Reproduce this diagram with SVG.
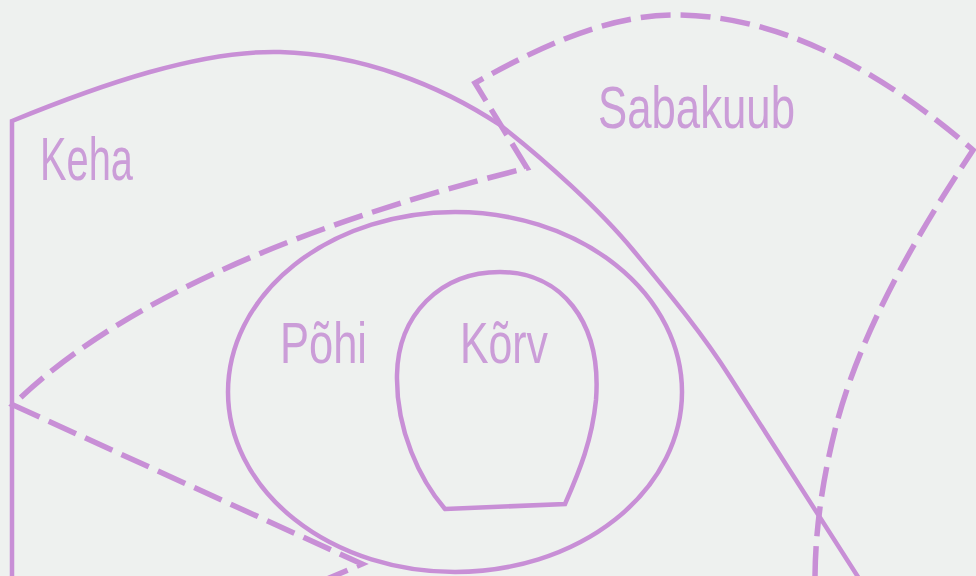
<svg xmlns="http://www.w3.org/2000/svg" width="976" height="576" viewBox="0 0 976 576">
<style>
.solid{fill:none;stroke:#c88fd6;stroke-width:4.5;stroke-linejoin:miter;stroke-linecap:round}
.dash{fill:none;stroke:#c88fd6;stroke-width:5.5;stroke-dasharray:30 10;stroke-linejoin:miter}
.lbl{font-family:"Liberation Sans Narrow","Liberation Sans",Arial,sans-serif;fill:#cb9dd8;font-weight:normal}
</style>
<rect width="976" height="576" fill="#eef1ef"/>
<g id="keha">
<path class="solid" d="M12,578 L12,121 C100,85 200,50 280,52 C360,54 440,85 500,125 C545,160 600,210 633,250 S700,330 730,377 L860,580"/>
<text class="lbl" x="40" y="180" font-size="61" textLength="93" lengthAdjust="spacingAndGlyphs">Keha</text>
</g>
<g id="sabakuub">
<path class="dash" d="M320,582 L362,564 L13,405 C150,270 400,200 527,168 L475,83 C560,35 620,15 675,15 C780,15 880,70 973,150 C920,230 860,330 835,430 C820,490 815,540 815,580"/>
<text class="lbl" x="598" y="128" font-size="60" textLength="197" lengthAdjust="spacingAndGlyphs">Sabakuub</text>
</g>
<g id="pohi">
<ellipse class="solid" cx="455" cy="392" rx="227" ry="180"/>
<text class="lbl" x="280" y="363" font-size="57" textLength="87" lengthAdjust="spacingAndGlyphs">Põhi</text>
</g>
<g id="korv">
<path class="solid" d="M445,509 L565,504 C580,470 592,440 596,400 C602,320 560,272 500,272 C440,272 398,315 397,375 C396,430 420,480 445,509 Z"/>
<text class="lbl" x="460" y="363" font-size="57" textLength="88" lengthAdjust="spacingAndGlyphs">Kõrv</text>
</g>
<g id="connectors"></g>
</svg>
